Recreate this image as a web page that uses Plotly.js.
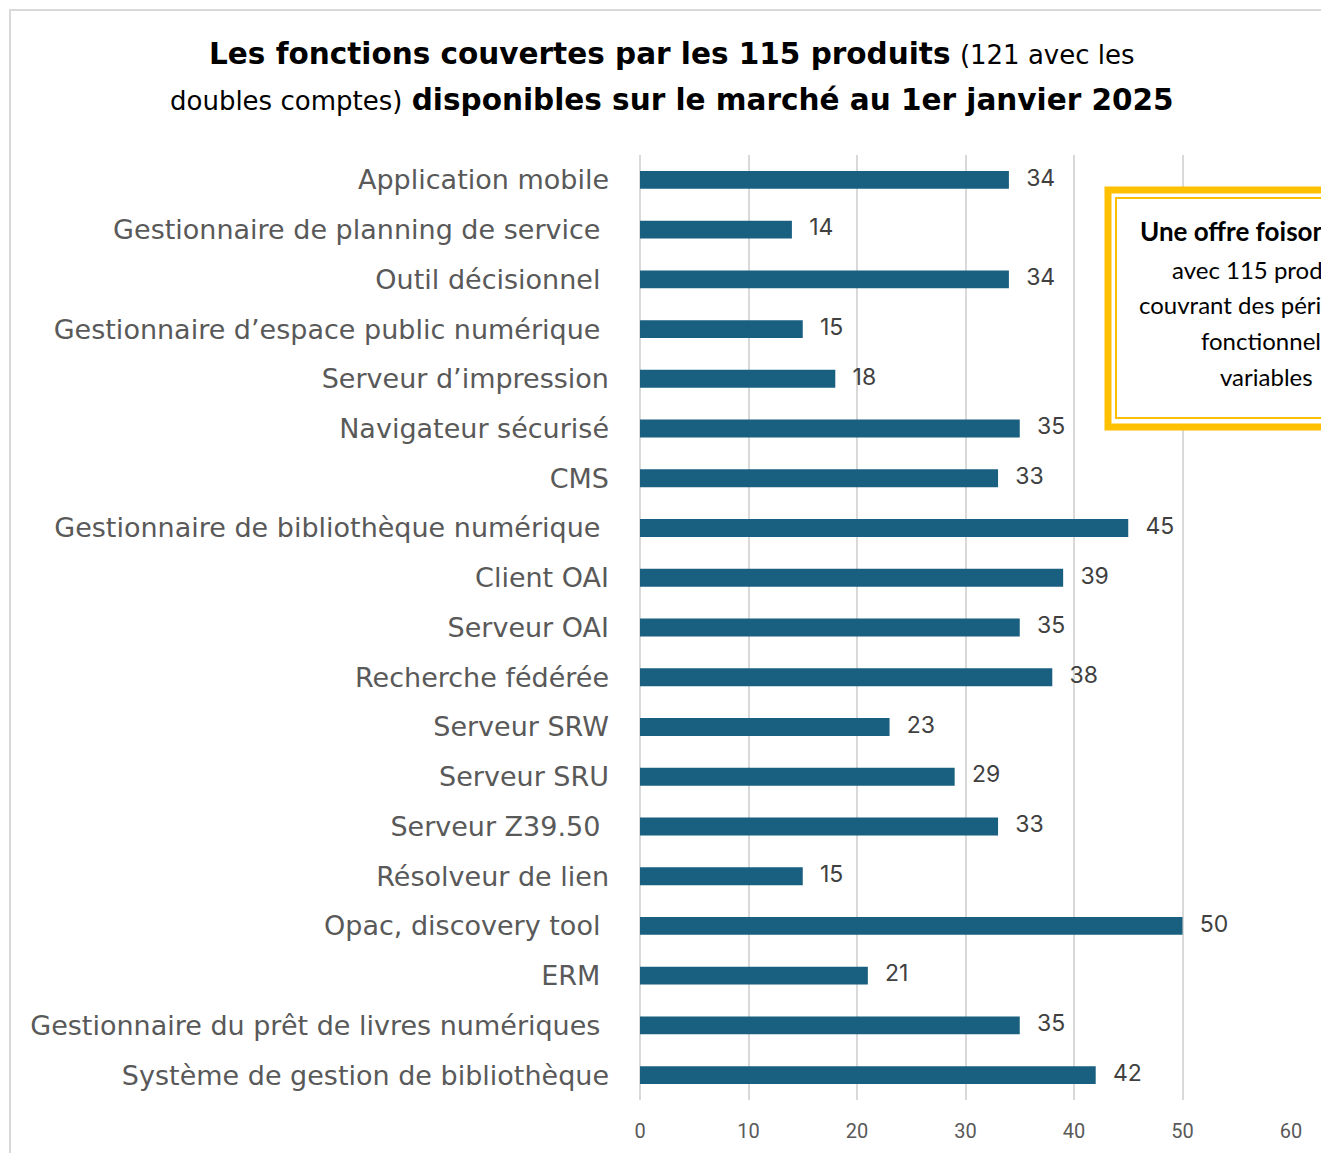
<!DOCTYPE html>
<html>
<head>
<meta charset="utf-8">
<script src="https://cdn.plot.ly/plotly-3.0.1.min.js"></script>
<style>html,body{margin:0;padding:0;background:#fff;}#chart{width:1321px;height:1153px;}</style>
</head>
<body>
<div id="chart"></div>
<script>
const categories = [
  "Application mobile",
  "Gestionnaire de planning de service ",
  "Outil décisionnel ",
  "Gestionnaire d’espace public numérique ",
  "Serveur d’impression",
  "Navigateur sécurisé",
  "CMS",
  "Gestionnaire de bibliothèque numérique ",
  "Client OAI",
  "Serveur OAI",
  "Recherche fédérée",
  "Serveur SRW",
  "Serveur SRU",
  "Serveur Z39.50 ",
  "Résolveur de lien",
  "Opac, discovery tool ",
  "ERM ",
  "Gestionnaire du prêt de livres numériques ",
  "Système de gestion de bibliothèque"
];
const values = [34, 14, 34, 15, 18, 35, 33, 45, 39, 35, 38, 23, 29, 33, 15, 50, 21, 35, 42];
const xTicks = [0, 10, 20, 30, 40, 50, 60];
const titleLine1 = "<b>Les fonctions couvertes par les 115 produits</b> <span style='font-size:26px'>(121 avec les</span>";
const titleLine2 = "<span style='font-size:26px'>doubles comptes)</span> <b>disponibles sur le marché au 1er janvier 2025</b>";
const boxLines = ["<b>Une offre foisonnante</b>", "avec 115 produits", "couvrant des périmètres", "fonctionnels", "variables"];

// pixel -> paper helpers (plot area: x 640..1291, y 155..1100)
const L = 640, R = 1291, T = 155, B = 1100;
const px = v => (v - L) / (R - L);
const py = v => (B - v) / (B - T);

const barTrace = {
  type: 'bar',
  orientation: 'h',
  x: values,
  y: categories,
  marker: {color: '#185f80'},
  hoverinfo: 'skip'
};
const labelTrace = {
  type: 'scatter',
  mode: 'markers+text',
  x: values,
  y: categories,
  text: values.map(String),
  textposition: 'middle right',
  marker: {size: 26, opacity: 0, color: '#ffffff'},
  textfont: {family: 'Inter, sans-serif', size: 23, color: '#404040'},
  hoverinfo: 'skip',
  cliponaxis: false
};

const boxLineY = [231, 269, 304, 340, 376];
const boxAnnotations = boxLines.map((t, i) => ({
  xref: 'paper', yref: 'paper', x: px(1266), y: py(boxLineY[i]), xanchor: 'center', yanchor: 'middle',
  showarrow: false, text: t, font: {family: 'Lato, sans-serif', size: i === 0 ? 26 : 24, color: '#000000'}
}));

const layout = {
  width: 1321,
  height: 1153,
  margin: {l: L, r: 1321 - R, t: T, b: 1153 - B, pad: 0},
  paper_bgcolor: '#ffffff',
  plot_bgcolor: '#ffffff',
  showlegend: false,
  bargap: 0.64,
  hovermode: false,
  xaxis: {
    range: [0, 60],
    tickvals: xTicks,
    ticktext: xTicks.map(String),
    showgrid: true,
    gridcolor: '#d9d9d9',
    gridwidth: 2,
    zeroline: false,
    showline: false,
    ticks: '',
    ticklabelstandoff: 17,
    tickfont: {family: 'Roboto, sans-serif', size: 20, color: '#595959'},
    fixedrange: true
  },
  yaxis: {
    type: 'category',
    range: [categories.length - 0.5, -0.5],
    autorange: false,
    showgrid: false,
    zeroline: false,
    showline: false,
    ticks: '',
    ticklabelstandoff: 30,
    tickfont: {family: '"DejaVu Sans", sans-serif', size: 27, color: '#595959'},
    fixedrange: true
  },
  shapes: [
    {type: 'rect', xref: 'paper', yref: 'paper', x0: px(10), x1: px(1340), y0: py(1170), y1: py(10),
     line: {color: '#d9d9d9', width: 2}, fillcolor: 'rgba(0,0,0,0)', layer: 'below'},
    {type: 'line', xref: 'paper', yref: 'paper', x0: 0, x1: 0, y0: 0, y1: 1,
     line: {color: '#d9d9d9', width: 2}, layer: 'below'},
    {type: 'rect', xref: 'paper', yref: 'paper', x0: px(1108), x1: px(1430), y0: py(427), y1: py(190),
     line: {color: '#ffc000', width: 7}, fillcolor: '#ffffff', layer: 'above'},
    {type: 'rect', xref: 'paper', yref: 'paper', x0: px(1116), x1: px(1420), y0: py(418), y1: py(198),
     line: {color: '#ffc000', width: 2}, fillcolor: 'rgba(0,0,0,0)', layer: 'above'}
  ],
  annotations: [
    {xref: 'paper', yref: 'paper', x: px(672), y: py(54), xanchor: 'center', yanchor: 'middle', showarrow: false,
     text: titleLine1, font: {family: '"DejaVu Sans", sans-serif', size: 29.5, color: '#000000'}},
    {xref: 'paper', yref: 'paper', x: px(672), y: py(100), xanchor: 'center', yanchor: 'middle', showarrow: false,
     text: titleLine2, font: {family: '"DejaVu Sans", sans-serif', size: 29.5, color: '#000000'}}
  ].concat(boxAnnotations)
};

Plotly.newPlot('chart', [barTrace, labelTrace], layout, {displayModeBar: false, staticPlot: true});
</script>
</body>
</html>
